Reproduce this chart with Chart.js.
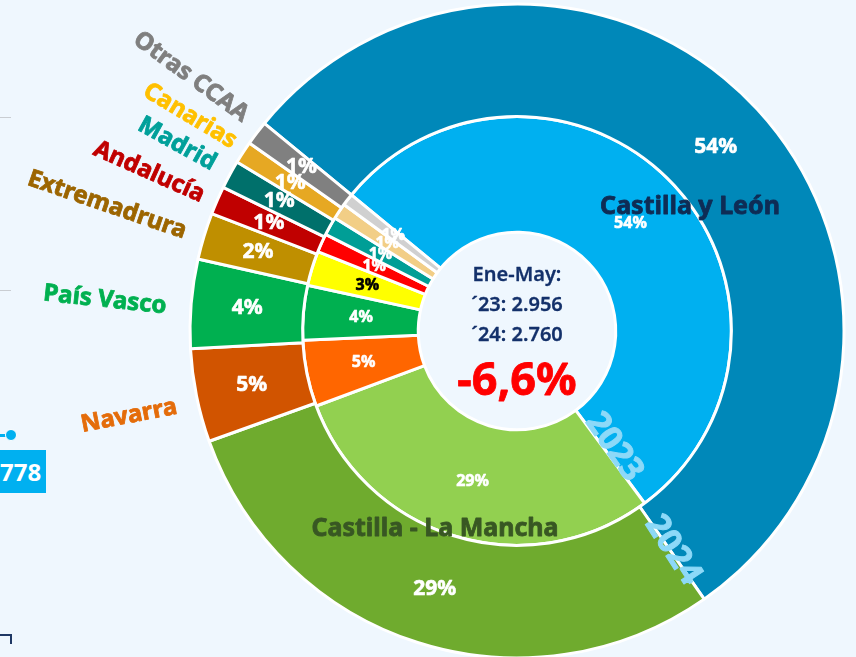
<!DOCTYPE html>
<html>
<head>
<meta charset="utf-8">
<script src="https://cdn.jsdelivr.net/npm/chart.js@4/dist/chart.umd.min.js"></script>
<style>
  html, body { margin: 0; padding: 0; background: #EFF7FE; overflow: hidden; }
  #wrap { position: relative; width: 856px; height: 657px; }
  #pie { position: absolute; left: 0; top: 0; }
  .bit { position: absolute; }
</style>
</head>
<body>
<div id="wrap">
  <!-- bits of the neighbouring chart cut off at the left edge -->
  <div class="bit" style="left:0;top:117px;width:11px;height:1px;background:#c9cdd2"></div>
  <div class="bit" style="left:0;top:290px;width:11px;height:1px;background:#c9cdd2"></div>
  <div class="bit" style="left:0;top:434px;width:8px;height:3px;background:#00B0F0"></div>
  <div class="bit" style="left:5px;top:429px;width:10px;height:10px;border-radius:50%;background:#00B0F0;border:1px solid #fff"></div>
  <div class="bit" style="left:0;top:450px;width:46px;height:43px;background:#00B0F0;color:#fff;font:bold 24px 'Noto Sans';line-height:43px;text-align:right;box-sizing:border-box;padding-right:7px;overflow:hidden">778</div>
  <div class="bit" style="left:0;top:634px;width:10px;height:8px;border-top:2px solid #1F3864;border-right:2px solid #1F3864"></div>
  <canvas id="pie" width="856" height="657"></canvas>
</div>
<script>
// data
let regions = ["Castilla y León", "Castilla - La Mancha", "Navarra", "País Vasco", "Extremadrura", "Andalucía", "Madrid", "Canarias", "Otras CCAA"];
let share2024 = [54.3, 29.2, 4.6, 4.4, 2.3, 1.4, 1.4, 1.1, 1.2];
let share2023 = [53.8, 29.4, 5.0, 4.1, 2.6, 1.4, 1.4, 1.2, 0.9];
let centerLines = ["Ene-May:", "´23: 2.956", "´24: 2.760"];
let centerChange = "-6,6%";

// colours
let colors2024 = ["#0088B9", "#6FAB2E", "#D15400", "#00B050", "#BF8F00", "#C00000", "#00706B", "#E6A823", "#808080"];
let colors2023 = ["#00B0F0", "#92D050", "#FF6600", "#00B050", "#FFFF00", "#FF0000", "#009E96", "#F2CE86", "#D0D0D0"];
let labelColors2023 = ["#fff", "#fff", "#fff", "#fff", "#000", "#fff", "#fff", "#fff", "#fff"];

const FONT = "'Noto Sans', sans-serif";

// bold text with a thin outline in the same colour, so it looks heavier
function heavyText(ctx, text, x, y, color, weight) {
    ctx.fillStyle = color;
    ctx.strokeStyle = color;
    ctx.lineWidth = weight;
    ctx.lineJoin = "round";
    ctx.strokeText(text, x, y);
    ctx.fillText(text, x, y);
}

// text drawn on top of the rings
const labelsPlugin = {
    id: "labels",
    afterDatasetsDraw(chart) {
        let ctx = chart.ctx;
        ctx.save();
        ctx.textAlign = "center";
        ctx.textBaseline = "middle";

        // percentages inside every slice
        chart.data.datasets.forEach((ds, i) => {
            let meta = chart.getDatasetMeta(i);
            let total = ds.data.reduce((a, b) => a + b, 0);
            meta.data.forEach((arc, j) => {
                let pos = arc.tooltipPosition();
                let pct = Math.round(ds.data[j] / total * 100) + "%";
                ctx.font = (i === 0 ? "bold 21px " : "bold 16px ") + FONT;
                heavyText(ctx, pct, pos.x, pos.y, i === 0 ? "#fff" : labelColors2023[j], 0.6);
            });
        });

        // big names on the two main slices
        ctx.font = "bold 25px " + FONT;
        heavyText(ctx, regions[0], 690, 207, "#0E2C55", 0.8);
        heavyText(ctx, regions[1], 435, 529, "#385723", 0.8);

        // rotated names outside the ring
        let outside = [
            [regions[8], 191, 77, 36, "#7F7F7F"],
            [regions[7], 190, 116, 31, "#FFC000"],
            [regions[6], 177, 144, 29, "#00A09A"],
            [regions[5], 149, 172, 24, "#C00000"],
            [regions[4], 107, 205, 19, "#9C6500"],
            [regions[3], 105, 300, 6, "#00B050"],
            [regions[2], 129, 416, -11, "#E46C0A"]
        ];
        outside.forEach(o => {
            ctx.save();
            ctx.translate(o[1], o[2]);
            ctx.rotate(o[3] * Math.PI / 180);
            ctx.font = "bold 24px " + FONT;
            heavyText(ctx, o[0], 0, 0, o[4], 0.8);
            ctx.restore();
        });

        // year tags along the split line
        [["2023", 614, 447, 55], ["2024", 673, 550, 57]].forEach(y => {
            ctx.save();
            ctx.translate(y[1], y[2]);
            ctx.rotate(y[3] * Math.PI / 180);
            ctx.font = "bold 33px " + FONT;
            heavyText(ctx, y[0], 0, 0, "#8DD9F8", 1);
            ctx.restore();
        });

        // centre
        let cx = (chart.chartArea.left + chart.chartArea.right) / 2;
        let cy = (chart.chartArea.top + chart.chartArea.bottom) / 2;
        ctx.font = "600 20px " + FONT;
        centerLines.forEach((t, k) => heavyText(ctx, t, cx, cy - 56 + k * 30, "#13306A", 0.3));
        ctx.font = "bold 45px " + FONT;
        heavyText(ctx, centerChange, cx, cy + 51, "#FF0000", 0.8);

        ctx.restore();
    }
};

let ctx = document.getElementById("pie").getContext("2d");

let chart = new Chart(ctx, {
    type: "doughnut",
    data: {
        labels: regions,
        datasets: [
            {
                label: "2024",
                data: share2024,
                backgroundColor: colors2024,
                borderColor: "#fff",
                borderWidth: 3,
                weight: 113
            },
            {
                label: "2023",
                data: share2023,
                backgroundColor: colors2023,
                borderColor: "#fff",
                borderWidth: 3,
                weight: 116
            }
        ]
    },
    options: {
        responsive: false,
        animation: false,
        rotation: -50.6,
        radius: 327,
        cutout: 98,
        layout: { padding: { left: 178, right: 0, top: 5, bottom: 0 } },
        plugins: {
            legend: { display: false },
            tooltip: { enabled: false }
        }
    },
    plugins: [labelsPlugin]
});
</script>
</body>
</html>
